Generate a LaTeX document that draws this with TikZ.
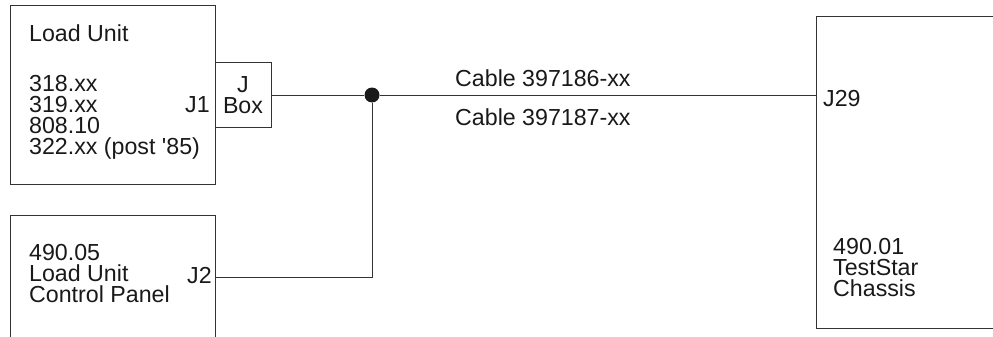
\documentclass[tikz,border=0pt]{standalone}
\usepackage{fontspec}
\setmainfont{Liberation Sans}
\usetikzlibrary{positioning}

\begin{document}
\begin{tikzpicture}[x=1pt,y=-1pt,
  unit/.style={rectangle, draw=black!80, line width=1pt, inner sep=0pt},
  txt/.style={anchor=base west, inner sep=0pt, text=black!90, font=\fontsize{23.2}{20.8}\selectfont},
  block/.style={anchor=north west, inner sep=0pt, align=left, text=black!90, font=\fontsize{23.2}{20.8}\selectfont},
  wire/.style={draw=black!80, line width=1pt},
  joint/.style={circle, fill=black!90, inner sep=0pt, minimum size=15pt}
]
  \useasboundingbox (0,0) rectangle (993,337);
  \clip (0,0) rectangle (993,337);

  % load unit and junction box
  \node[unit, minimum width=205pt, minimum height=178pt] (load) at (112.5,95) {};
  \node[txt] (loadname) at (29,42) {Load Unit};
  \node[block] (loadtypes) at (29,75.5) {318.xx\\319.xx\\808.10\\322.xx (post \textquotesingle85)};
  \node[txt] (jone) at (185,112) {J1};
  \node[unit, minimum width=56pt, minimum height=64pt, align=center,
    text=black!90, font=\fontsize{23.2}{20.8}\selectfont] (jbox) at (243,95) {J\\Box};

  % control panel
  \node[unit, minimum width=205pt, minimum height=200pt] (panel) at (112.5,315) {};
  \node[block] (panelname) at (29,244.5) {490.05\\Load Unit\\Control Panel};
  \node[txt] (jtwo) at (187,283) {J2};
  \coordinate (jtwoend) at (215,277);

  % chassis
  \node[unit, minimum width=284pt, minimum height=311pt] (chassis) at (958,172.5) {};
  \node[txt] (jtwentynine) at (823,106) {J29};
  \node[block] (chassisname) at (833,238.5) {490.01\\TestStar\\Chassis};

  % cables
  \node[joint] (dot) at (372,95) {};
  \draw[wire] (jbox.east) -- (dot);
  \draw[wire] (dot) -- (chassis.west |- dot);
  \draw[wire] (dot) |- (jtwoend);
  \node[txt] (cableone) at (455,86) {Cable 397186-xx};
  \node[txt] (cabletwo) at (455,125) {Cable 397187-xx};
\end{tikzpicture}
\end{document}
